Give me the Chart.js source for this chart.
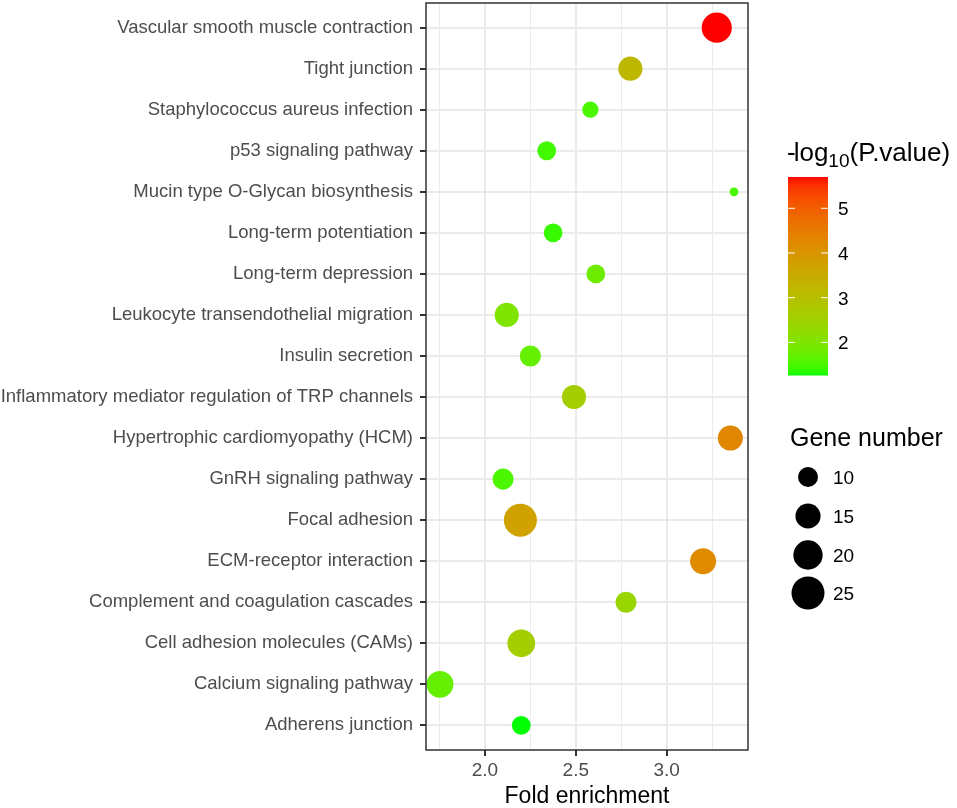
<!DOCTYPE html>
<html>
<head>
<meta charset="utf-8">
<script src="https://cdn.jsdelivr.net/npm/chart.js@4.4.1/dist/chart.umd.min.js"></script>
<style>
html, body { margin: 0; padding: 0; background: #fff; }
</style>
</head>
<body>
<canvas id="myChart" width="957" height="808"></canvas>
<script>
// data, listed top to bottom as in the figure
const pathways = [
    'Vascular smooth muscle contraction',
    'Tight junction',
    'Staphylococcus aureus infection',
    'p53 signaling pathway',
    'Mucin type O-Glycan biosynthesis',
    'Long-term potentiation',
    'Long-term depression',
    'Leukocyte transendothelial migration',
    'Insulin secretion',
    'Inflammatory mediator regulation of TRP channels',
    'Hypertrophic cardiomyopathy (HCM)',
    'GnRH signaling pathway',
    'Focal adhesion',
    'ECM-receptor interaction',
    'Complement and coagulation cascades',
    'Cell adhesion molecules (CAMs)',
    'Calcium signaling pathway',
    'Adherens junction'
];
const foldEnrichment = [3.275, 2.80, 2.58, 2.34, 3.37, 2.375, 2.61, 2.12, 2.25, 2.49, 3.35, 2.10, 2.195, 3.20, 2.776, 2.20, 1.753, 2.20];
const geneNumber = [21, 14, 7, 9, 3, 9, 9, 14, 11, 14, 15, 11, 25, 16, 11, 18, 17, 9];
const logP = [5.70, 3.2, 1.5, 1.45, 1.5, 1.4, 1.8, 2.0, 1.7, 2.6, 4.3, 1.5, 3.7, 4.2, 2.4, 2.6, 1.7, 1.27];
const xTicks = [1.75, 2.0, 2.25, 2.5, 2.75, 3.0, 3.25];
const xMajor = [2.0, 2.5, 3.0];
const colorTicks = [2, 3, 4, 5];
const sizeBreaks = [10, 15, 20, 25];

const FONT = '"Liberation Sans", Arial, sans-serif';
Chart.defaults.font.family = FONT;

const pMin = Math.min(...logP);
const pMax = Math.max(...logP);

// green -> red gradient interpolated in Lab, like ggplot
function toLinear(c) { c /= 255; return c <= 0.04045 ? c / 12.92 : Math.pow((c + 0.055) / 1.055, 2.4); }
function fromLinear(c) {
    c = c <= 0.0031308 ? 12.92 * c : 1.055 * Math.pow(c, 1 / 2.4) - 0.055;
    return Math.round(Math.max(0, Math.min(1, c)) * 255);
}
const WX = 0.95047, WY = 1, WZ = 1.08883;
function rgbToLab(rgb) {
    const r = toLinear(rgb[0]), g = toLinear(rgb[1]), b = toLinear(rgb[2]);
    let x = (r * 0.4124 + g * 0.3576 + b * 0.1805) / WX;
    let y = (r * 0.2126 + g * 0.7152 + b * 0.0722) / WY;
    let z = (r * 0.0193 + g * 0.1192 + b * 0.9505) / WZ;
    const f = t => t > 0.008856 ? Math.cbrt(t) : 7.787 * t + 16 / 116;
    x = f(x); y = f(y); z = f(z);
    return [116 * y - 16, 500 * (x - y), 200 * (y - z)];
}
function labToRgb(lab) {
    let y = (lab[0] + 16) / 116, x = lab[1] / 500 + y, z = y - lab[2] / 200;
    const fi = t => t * t * t > 0.008856 ? t * t * t : (t - 16 / 116) / 7.787;
    x = fi(x) * WX; y = fi(y) * WY; z = fi(z) * WZ;
    const r = x * 3.2406 + y * -1.5372 + z * -0.4986;
    const g = x * -0.9689 + y * 1.8758 + z * 0.0415;
    const b = x * 0.0557 + y * -0.2040 + z * 1.0570;
    return `rgb(${fromLinear(r)},${fromLinear(g)},${fromLinear(b)})`;
}
const lowLab = rgbToLab([0, 255, 0]);
const highLab = rgbToLab([255, 0, 0]);
function pColor(v) {
    const t = Math.max(0, Math.min(1, (v - pMin) / (pMax - pMin)));
    return labToRgb(lowLab.map((l, i) => l + (highLab[i] - l) * t));
}
function bubbleRadius(n) {
    return Math.sqrt(46 * n - 60) / 2;
}

const sideLegend = {
    id: 'sideLegend',
    afterDraw(chart) {
        const c = chart.ctx;
        const a = chart.chartArea;
        c.save();
        // panel border
        c.strokeStyle = '#333';
        c.lineWidth = 1.5;
        c.strokeRect(a.left, a.top, a.right - a.left, a.bottom - a.top);

        // colour bar title
        c.fillStyle = '#000';
        c.textAlign = 'left';
        c.textBaseline = 'alphabetic';
        let x = 787;
        const yb = 161;
        c.font = '26px ' + FONT;
        c.fillText('-', x, yb);
        x += c.measureText('-').width - 2;
        c.fillText('log', x, yb);
        x += c.measureText('log').width;
        c.font = '19px ' + FONT;
        c.fillText('10', x, yb + 6);
        x += c.measureText('10').width;
        c.font = '26px ' + FONT;
        c.fillText('(P.value)', x, yb);

        // colour bar
        const bx = 788, bw = 40, top = 177, bottom = 375;
        for (let y = top; y < bottom; y++) {
            const v = pMax - (y - top + 0.5) / (bottom - top) * (pMax - pMin);
            c.fillStyle = pColor(v);
            c.fillRect(bx, y, bw, 1.5);
        }
        c.font = '19px ' + FONT;
        colorTicks.forEach(t => {
            const y = bottom - (t - pMin) / (pMax - pMin) * (bottom - top);
            c.strokeStyle = '#fff';
            c.lineWidth = 1;
            c.beginPath();
            c.moveTo(bx, y); c.lineTo(bx + 7, y);
            c.moveTo(bx + bw - 7, y); c.lineTo(bx + bw, y);
            c.stroke();
            c.fillStyle = '#000';
            c.fillText(String(t), 838, y + 7);
        });

        // size legend
        c.font = '25px ' + FONT;
        c.fillText('Gene number', 790, 446);
        const ys = [477, 516, 555, 593];
        c.font = '19px ' + FONT;
        sizeBreaks.forEach((n, i) => {
            c.fillStyle = '#000';
            c.beginPath();
            c.arc(808, ys[i], bubbleRadius(n), 0, Math.PI * 2);
            c.fill();
            c.fillText(String(n), 833, ys[i] + 7);
        });
        c.restore();
    }
};

const ctx = document.getElementById('myChart');
new Chart(ctx, {
    type: 'bubble',
    data: {
        datasets: [{
            data: pathways.map((p, i) => ({ x: foldEnrichment[i], y: i + 1, r: bubbleRadius(geneNumber[i]) })),
            backgroundColor: pathways.map((p, i) => pColor(logP[i])),
            borderWidth: 0,
            hoverBorderWidth: 0
        }]
    },
    options: {
        responsive: false,
        animation: false,
        events: [],
        layout: { autoPadding: false, padding: { top: 3, right: 209, bottom: 0, left: 0 } },
        plugins: {
            legend: { display: false },
            tooltip: { enabled: false }
        },
        scales: {
            x: {
                type: 'linear',
                min: 1.676,
                max: 3.447,
                afterBuildTicks: s => { s.ticks = xTicks.map(v => ({ value: v })); },
                afterFit: s => { s.height = 58; s.paddingLeft = 0; s.paddingRight = 0; },
                border: { display: false },
                grid: {
                    color: '#ebebeb',
                    lineWidth: c => xMajor.includes(c.tick.value) ? 2 : 1,
                    tickLength: 6,
                    tickWidth: 2,
                    tickColor: c => xMajor.includes(c.tick.value) ? '#333' : 'rgba(0,0,0,0)'
                },
                ticks: {
                    autoSkip: false,
                    maxRotation: 0,
                    padding: 3,
                    color: '#4d4d4d',
                    font: { size: 19 },
                    callback: v => xMajor.includes(v) ? v.toFixed(1) : ''
                },
                title: {
                    display: true,
                    text: 'Fold enrichment',
                    color: '#000',
                    font: { size: 23, lineHeight: 1.0 },
                    padding: { top: 0, bottom: 0 }
                }
            },
            y: {
                type: 'linear',
                reverse: true,
                min: 0.4,
                max: 18.6,
                afterBuildTicks: s => { s.ticks = pathways.map((p, i) => ({ value: i + 1 })); },
                afterFit: s => { s.width = 426; s.paddingTop = 0; s.paddingBottom = 0; },
                border: { display: false },
                grid: {
                    color: '#ebebeb',
                    lineWidth: 2,
                    tickLength: 6,
                    tickWidth: 2,
                    tickColor: '#333'
                },
                ticks: {
                    autoSkip: false,
                    padding: 7,
                    color: '#4d4d4d',
                    font: { size: 18.5 },
                    callback: v => pathways[v - 1]
                }
            }
        }
    },
    plugins: [sideLegend]
});
</script>
</body>
</html>
